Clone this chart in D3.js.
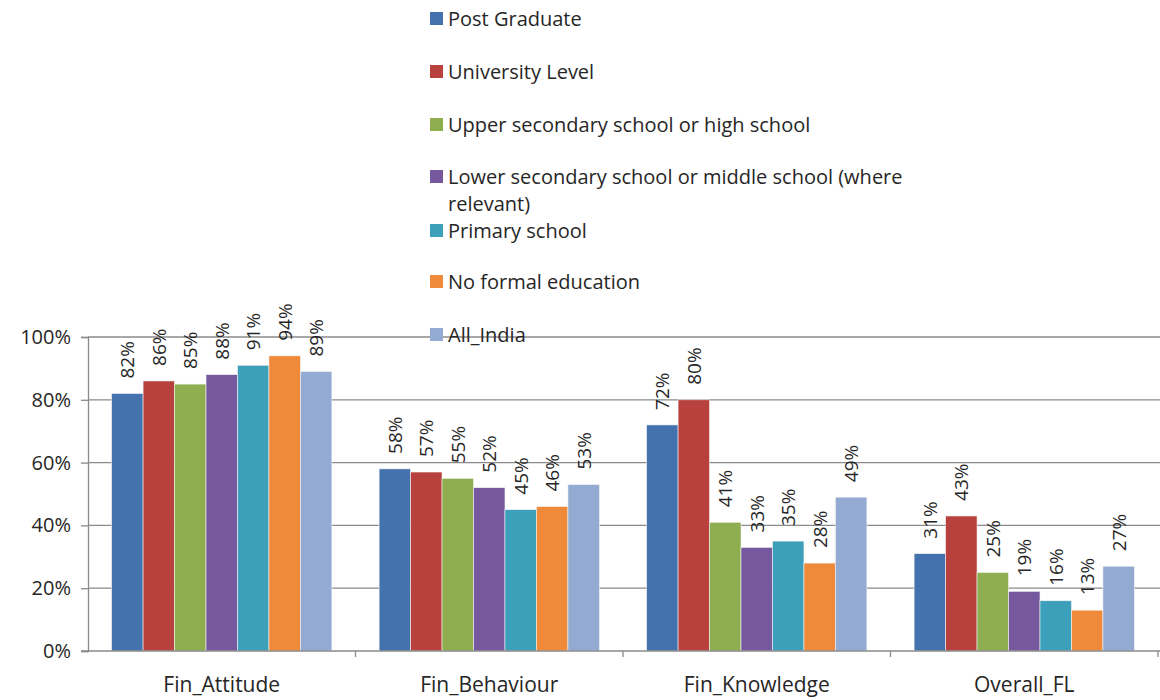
<!DOCTYPE html>
<html>
<head>
<meta charset="utf-8">
<script src="https://cdn.jsdelivr.net/npm/d3@7"></script>
<style>
  html, body { margin: 0; padding: 0; background: #fff; }
  svg { display: block; font-family: "Open Sans", "Noto Sans", sans-serif; }
</style>
</head>
<body>
<svg id="chart" width="1160" height="700"></svg>
<script>
// Financial literacy scores by education level
const categories = ["Fin_Attitude", "Fin_Behaviour", "Fin_Knowledge", "Overall_FL"];
const seriesNames = [
  "Post Graduate",
  "University Level",
  "Upper secondary school or high school",
  "Lower secondary school or middle school (where relevant)",
  "Primary school",
  "No formal education",
  "All_India"
];
const postGraduate   = [82, 58, 72, 31];
const universityLvl  = [86, 57, 80, 43];
const upperSecondary = [85, 55, 41, 25];
const lowerSecondary = [88, 52, 33, 19];
const primarySchool  = [91, 45, 35, 16];
const noFormal       = [94, 46, 28, 13];
const allIndia       = [89, 53, 49, 27];
const yTicks = [0, 20, 40, 60, 80, 100];

const seriesValues = [postGraduate, universityLvl, upperSecondary, lowerSecondary, primarySchool, noFormal, allIndia];
const colors = ["#4372AE", "#B8413D", "#8EAE4F", "#75589D", "#3DA0BB", "#EE8A3A", "#93AAD2"];

const svg = d3.select("#chart");
const margin = { left: 88, right: 2, top: 337, bottom: 49 };
const W = 1160, H = 700;
const plotRight = W - margin.right;
const plotBottom = H - margin.bottom;
const textColor = "#262626";

const x0 = d3.scaleBand().domain(categories).range([margin.left, plotRight]).paddingInner(0).paddingOuter(0);
// each category holds 7 bars plus a gap of 1.5 bar widths
const x1 = d3.scaleBand().domain(d3.range(seriesNames.length))
  .range([0, x0.bandwidth()]).paddingOuter(0.75).paddingInner(0);
const y = d3.scaleLinear().domain([0, 100]).range([plotBottom, margin.top]);

const axisColor = "#8a8a8a";

// gridlines
svg.append("g").selectAll("line").data(yTicks.filter(t => t > 0)).join("line")
  .attr("x1", margin.left).attr("x2", W)
  .attr("y1", d => y(d)).attr("y2", d => y(d))
  .attr("stroke", axisColor).attr("stroke-width", 1.3);

// y axis
const yAxis = svg.append("g").attr("transform", `translate(${margin.left},0)`)
  .call(d3.axisLeft(y).tickValues(yTicks).tickFormat(d => d + "%").tickSize(7).tickPadding(10));
yAxis.select(".domain").attr("stroke", axisColor).attr("stroke-width", 1.3);
yAxis.selectAll(".tick line").attr("stroke", axisColor).attr("stroke-width", 1.3);
yAxis.selectAll("text").attr("fill", textColor).attr("font-size", 20).attr("font-family", "Open Sans");

// bars with rotated value labels
const groups = svg.append("g").selectAll("g").data(categories).join("g")
  .attr("transform", d => `translate(${x0(d)},0)`);

groups.each(function (cat, ci) {
  const g = d3.select(this);
  seriesValues.forEach((vals, si) => {
    const v = vals[ci];
    g.append("rect")
      .attr("x", x1(si)).attr("width", x1.bandwidth())
      .attr("y", y(v)).attr("height", y(0) - y(v))
      .attr("fill", colors[si])
      .attr("stroke", "#f4f4f4").attr("stroke-width", 0.6);
    const cx = x1(si) + x1.bandwidth() / 2;
    const ty = y(v) - 15;
    g.append("text")
      .attr("transform", `translate(${cx},${ty}) rotate(-90)`)
      .attr("dominant-baseline", "central")
      .attr("text-anchor", "start")
      .attr("font-size", 19).attr("fill", textColor)
      .text(v + "%");
  });
});

// x axis
const xAxis = svg.append("g").attr("transform", `translate(0,${plotBottom})`);
xAxis.append("line").attr("x1", margin.left - 7).attr("x2", W)
  .attr("y1", 0).attr("y2", 0).attr("stroke", axisColor).attr("stroke-width", 1.3);
const boundaries = categories.map(c => x0(c)).concat([x0(categories[categories.length - 1]) + x0.bandwidth()]);
xAxis.selectAll("line.tk").data(boundaries.slice(1)).join("line").attr("class", "tk")
  .attr("x1", d => d).attr("x2", d => d).attr("y1", 0).attr("y2", 6)
  .attr("stroke", axisColor).attr("stroke-width", 1.3);
xAxis.selectAll("text").data(categories).join("text")
  .attr("x", d => x0(d) + x0.bandwidth() / 2).attr("y", 33)
  .attr("dominant-baseline", "central")
  .attr("text-anchor", "middle").attr("font-size", 21).attr("fill", textColor)
  .text(d => d);

// legend
const legendX = 430;
const legendRows = [
  { si: 0, y: 18, lines: ["Post Graduate"] },
  { si: 1, y: 71, lines: ["University Level"] },
  { si: 2, y: 124, lines: ["Upper secondary school or high school"] },
  { si: 3, y: 176, lines: ["Lower secondary school or middle school (where", "relevant)"] },
  { si: 4, y: 230, lines: ["Primary school"] },
  { si: 5, y: 281, lines: ["No formal education"] },
  { si: 6, y: 334, lines: ["All_India"] }
];
const legend = svg.append("g");
legendRows.forEach(r => {
  legend.append("rect").attr("x", legendX).attr("y", r.y - 6).attr("width", 13).attr("height", 13)
    .attr("fill", colors[r.si]);
  r.lines.forEach((ln, i) => {
    legend.append("text").attr("x", legendX + 18).attr("y", r.y + i * 27)
      .attr("dominant-baseline", "central").attr("font-size", 20).attr("fill", textColor)
      .text(ln);
  });
});
</script>
</body>
</html>
